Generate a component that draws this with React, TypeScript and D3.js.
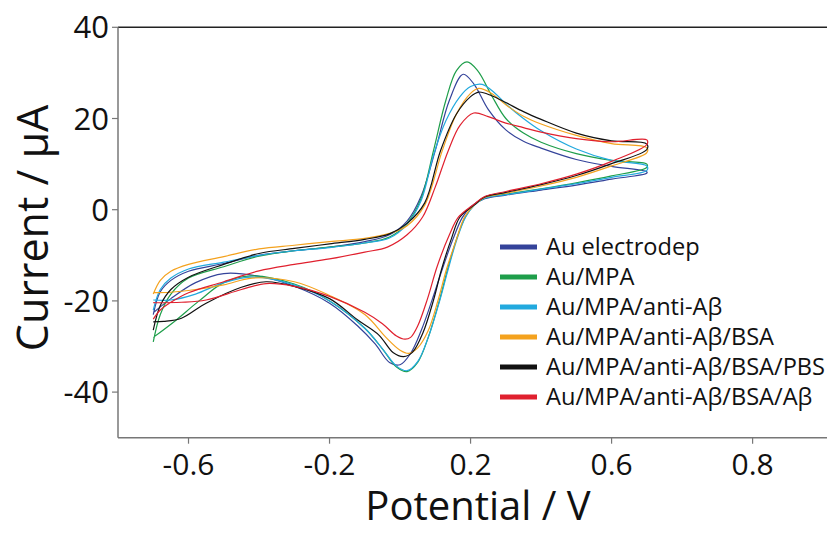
import React from "react";
import * as d3 from "d3";

type Pt = [number, number];

const seriesNames = [
  "Au electrodep",
  "Au/MPA",
  "Au/MPA/anti-Aβ",
  "Au/MPA/anti-Aβ/BSA",
  "Au/MPA/anti-Aβ/BSA/PBS",
  "Au/MPA/anti-Aβ/BSA/Aβ",
];
const seriesColors = ["#34439a", "#1e9e4a", "#22a9de", "#f4a21e", "#111111", "#e0202e"];

// cyclic voltammograms: forward scan -0.7 -> 0.7 V, then back to -0.7 V  (E in V, I in µA)
const auElectrodep: Pt[] = [
  [-0.7, -23], [-0.68, -18], [-0.65, -15.5], [-0.6, -13.5], [-0.5, -11.8], [-0.4, -10], [-0.3, -9],
  [-0.2, -8.2], [-0.1, -7], [-0.03, -5.5], [0.02, -2.5], [0.06, 3], [0.1, 13], [0.14, 24],
  [0.179, 29.7], [0.21, 27.5], [0.25, 22], [0.3, 17.5], [0.35, 15], [0.4, 13.5], [0.5, 11],
  [0.6, 9.5], [0.7, 8.3],
  [0.7, 8], [0.6, 6.7], [0.5, 5.4], [0.4, 4.3], [0.3, 3.2], [0.24, 2.4], [0.2, 0.6], [0.176, -1.8],
  [0.15, -6.5], [0.12, -13], [0.09, -20], [0.06, -26.5], [0.03, -31.5], [0.0, -34], [-0.03, -33.5],
  [-0.07, -29.5], [-0.12, -25.5], [-0.2, -20.5], [-0.3, -16.8], [-0.4, -14.6], [-0.5, -14],
  [-0.58, -16], [-0.65, -19.5], [-0.7, -22.6],
];
const auMpa: Pt[] = [
  [-0.7, -29], [-0.68, -23], [-0.65, -18.5], [-0.6, -15], [-0.5, -12.5], [-0.4, -10.2], [-0.3, -9],
  [-0.2, -8.2], [-0.1, -7.3], [-0.03, -6], [0.02, -3], [0.06, 2.5], [0.095, 13], [0.13, 24],
  [0.16, 30.5], [0.19, 32.4], [0.22, 30.5], [0.26, 25], [0.3, 20], [0.35, 16.8], [0.4, 14.8],
  [0.5, 12.3], [0.6, 10.8], [0.7, 10],
  [0.7, 9.3], [0.6, 7.4], [0.5, 5.9], [0.4, 4.6], [0.3, 3.4], [0.24, 2.6], [0.21, 1], [0.185, -1.6],
  [0.16, -6.5], [0.135, -13], [0.112, -19.8], [0.08, -28], [0.05, -33.5], [0.02, -35.5],
  [-0.01, -34.5], [-0.05, -30.5], [-0.1, -26], [-0.2, -20], [-0.3, -16.3], [-0.42, -14.5],
  [-0.5, -16], [-0.57, -20], [-0.64, -24.5], [-0.7, -28],
];
const auMpaAnti: Pt[] = [
  [-0.7, -22], [-0.68, -17.5], [-0.65, -15], [-0.6, -13], [-0.5, -11.5], [-0.4, -10], [-0.3, -9],
  [-0.2, -8.3], [-0.1, -7.3], [-0.03, -6.2], [0.02, -3.2], [0.06, 2], [0.095, 12], [0.13, 19.5],
  [0.17, 24.8], [0.2, 27], [0.233, 27.5], [0.27, 25.5], [0.3, 23.2], [0.35, 20], [0.4, 17.3],
  [0.5, 13.3], [0.6, 10.8], [0.7, 9.6],
  [0.7, 8.6], [0.6, 7.1], [0.5, 5.7], [0.4, 4.5], [0.3, 3.3], [0.24, 2.5], [0.21, 0.9], [0.186, -1.6],
  [0.16, -6.8], [0.135, -13.5], [0.113, -19.8], [0.08, -28], [0.05, -33.3], [0.02, -35.3],
  [-0.01, -34.3], [-0.05, -30.5], [-0.1, -26], [-0.2, -20], [-0.3, -16.5], [-0.42, -14.8],
  [-0.5, -16], [-0.58, -18.5], [-0.65, -19.8], [-0.7, -19.8],
];
const auMpaAntiBsa: Pt[] = [
  [-0.7, -18.5], [-0.68, -15.5], [-0.65, -13.5], [-0.6, -12], [-0.5, -10.3], [-0.4, -8.6],
  [-0.3, -7.8], [-0.2, -7], [-0.1, -6.3], [-0.03, -5.2], [0.02, -3.5], [0.07, 1], [0.12, 13],
  [0.16, 21], [0.2, 25.5], [0.223, 26.6], [0.26, 25.5], [0.3, 23], [0.35, 20.5], [0.4, 18.8],
  [0.5, 16.3], [0.6, 14.5], [0.7, 13.6],
  [0.7, 12.5], [0.6, 9.6], [0.5, 7.1], [0.4, 5.2], [0.3, 3.6], [0.24, 2.7], [0.21, 1], [0.183, -1.6],
  [0.16, -6.5], [0.132, -13], [0.108, -19.8], [0.08, -26.5], [0.05, -30.3], [0.025, -31.5],
  [0.0, -30.8], [-0.04, -28], [-0.1, -23], [-0.2, -18.8], [-0.3, -15.8], [-0.42, -15],
  [-0.5, -16.5], [-0.58, -17.5], [-0.65, -18.1], [-0.7, -18.2],
];
const auMpaAntiBsaPbs: Pt[] = [
  [-0.7, -26.4], [-0.68, -21], [-0.65, -17.5], [-0.6, -14.8], [-0.5, -12], [-0.4, -9.6],
  [-0.3, -8.5], [-0.2, -7.5], [-0.1, -6.5], [-0.03, -5.3], [0.02, -3], [0.07, 1.5], [0.115, 13],
  [0.16, 21], [0.2, 24.8], [0.223, 25.8], [0.26, 25], [0.3, 23.5], [0.35, 21.5], [0.4, 19.8],
  [0.5, 16.8], [0.6, 15.1], [0.7, 14.4],
  [0.7, 13.2], [0.6, 10.1], [0.5, 7.5], [0.4, 5.5], [0.3, 3.8], [0.24, 2.8], [0.21, 1], [0.17, -1.6],
  [0.145, -6.5], [0.118, -13], [0.095, -19.8], [0.065, -27], [0.035, -31.3], [0.01, -32.2],
  [-0.02, -31.3], [-0.06, -27.5], [-0.12, -24.2], [-0.2, -19.5], [-0.3, -16.8], [-0.38, -15.8],
  [-0.45, -17], [-0.55, -20.5], [-0.62, -23.8], [-0.67, -24.5], [-0.7, -24.6],
];
const auMpaAntiBsaAb: Pt[] = [
  [-0.7, -24], [-0.68, -22], [-0.65, -20.3], [-0.6, -18.2], [-0.5, -15.8], [-0.4, -13.4],
  [-0.3, -12], [-0.2, -10.8], [-0.1, -9.3], [-0.036, -8.2], [0.02, -5.5], [0.064, -1.6], [0.1, 5],
  [0.137, 13], [0.17, 18.5], [0.209, 21.2], [0.25, 20.4], [0.3, 19], [0.35, 18], [0.4, 17],
  [0.5, 15.6], [0.6, 14.9], [0.7, 15.3],
  [0.7, 14.3], [0.6, 10.6], [0.5, 7.8], [0.4, 5.7], [0.3, 4], [0.24, 2.9], [0.21, 1.2], [0.166, -1.6],
  [0.14, -5.5], [0.105, -12.5], [0.078, -19.5], [0.05, -25.5], [0.03, -28], [0.014, -28.4],
  [-0.01, -27.7], [-0.05, -25], [-0.1, -22.5], [-0.2, -19], [-0.3, -16.8], [-0.38, -16.2],
  [-0.45, -17.5], [-0.55, -19.8], [-0.62, -20.3], [-0.7, -20.4],
];
const seriesData = [auElectrodep, auMpa, auMpaAnti, auMpaAntiBsa, auMpaAntiBsaPbs, auMpaAntiBsaAb];

const yTicks = [40, 20, 0, -20, -40];
const xTickValues = [-0.6, -0.2, 0.2, 0.6, 1.0];
const xTickLabels = ["-0.6", "-0.2", "0.2", "0.6", "0.8"];

const width = 827;
const height = 533;
const font = "'Open Sans', 'Noto Sans', sans-serif";

export default function App() {
  const x = d3.scaleLinear().domain([-0.8, 1.211]).range([118, 827]);
  const y = d3.scaleLinear().domain([-50, 40]).range([437.7, 27.3]);

  const line = d3
    .line<Pt>()
    .x((d) => x(d[0]))
    .y((d) => y(d[1]))
    .curve(d3.curveCatmullRom.alpha(0.5));

  const [x0, x1] = x.range();
  const [yb, yt] = y.range();

  return (
    <svg
      width={width}
      height={height}
      style={{ position: "absolute", left: 0, top: 0, background: "#fff" }}
      fontFamily={font}
    >
      {/* frame */}
      <line x1={x0} x2={x1} y1={yt} y2={yt} stroke="#222" strokeWidth={1.5} />
      <line x1={x0} x2={x0} y1={yt} y2={yb} stroke="#777" strokeWidth={1.5} />
      <line x1={x0} x2={x1} y1={yb} y2={yb} stroke="#777" strokeWidth={1.5} />

      {yTicks.map((t) => (
        <g key={t} transform={`translate(0,${y(t)})`}>
          <line x1={x0 - 6} x2={x0} stroke="#777" strokeWidth={1.2} />
          <text x={x0 - 9} dy="0.36em" textAnchor="end" fontSize={31} fill="#111">
            {t}
          </text>
        </g>
      ))}
      {xTickValues.map((t, i) => (
        <g key={t} transform={`translate(${x(t)},0)`}>
          <line y1={yb} y2={yb + 6} stroke="#777" strokeWidth={1.2} />
          <text y={475} textAnchor="middle" fontSize={30} fill="#111">
            {xTickLabels[i]}
          </text>
        </g>
      ))}

      <text x={478} y={520} textAnchor="middle" fontSize={40} fill="#111">
        Potential / V
      </text>
      <text transform="translate(48,228) rotate(-90)" textAnchor="middle" fontSize={43} fill="#111">
        Current / µA
      </text>

      {seriesData.map((d, i) => (
        <path key={i} d={line(d) ?? ""} fill="none" stroke={seriesColors[i]} strokeWidth={1.2} />
      ))}

      {seriesNames.map((n, i) => (
        <g key={n} transform={`translate(0,${255 + i * 30})`}>
          <line x1={500} x2={537} y1={-8} y2={-8} stroke={seriesColors[i]} strokeWidth={5} />
          <text x={546} fontSize={23.6} fill="#111">
            {n}
          </text>
        </g>
      ))}
    </svg>
  );
}
